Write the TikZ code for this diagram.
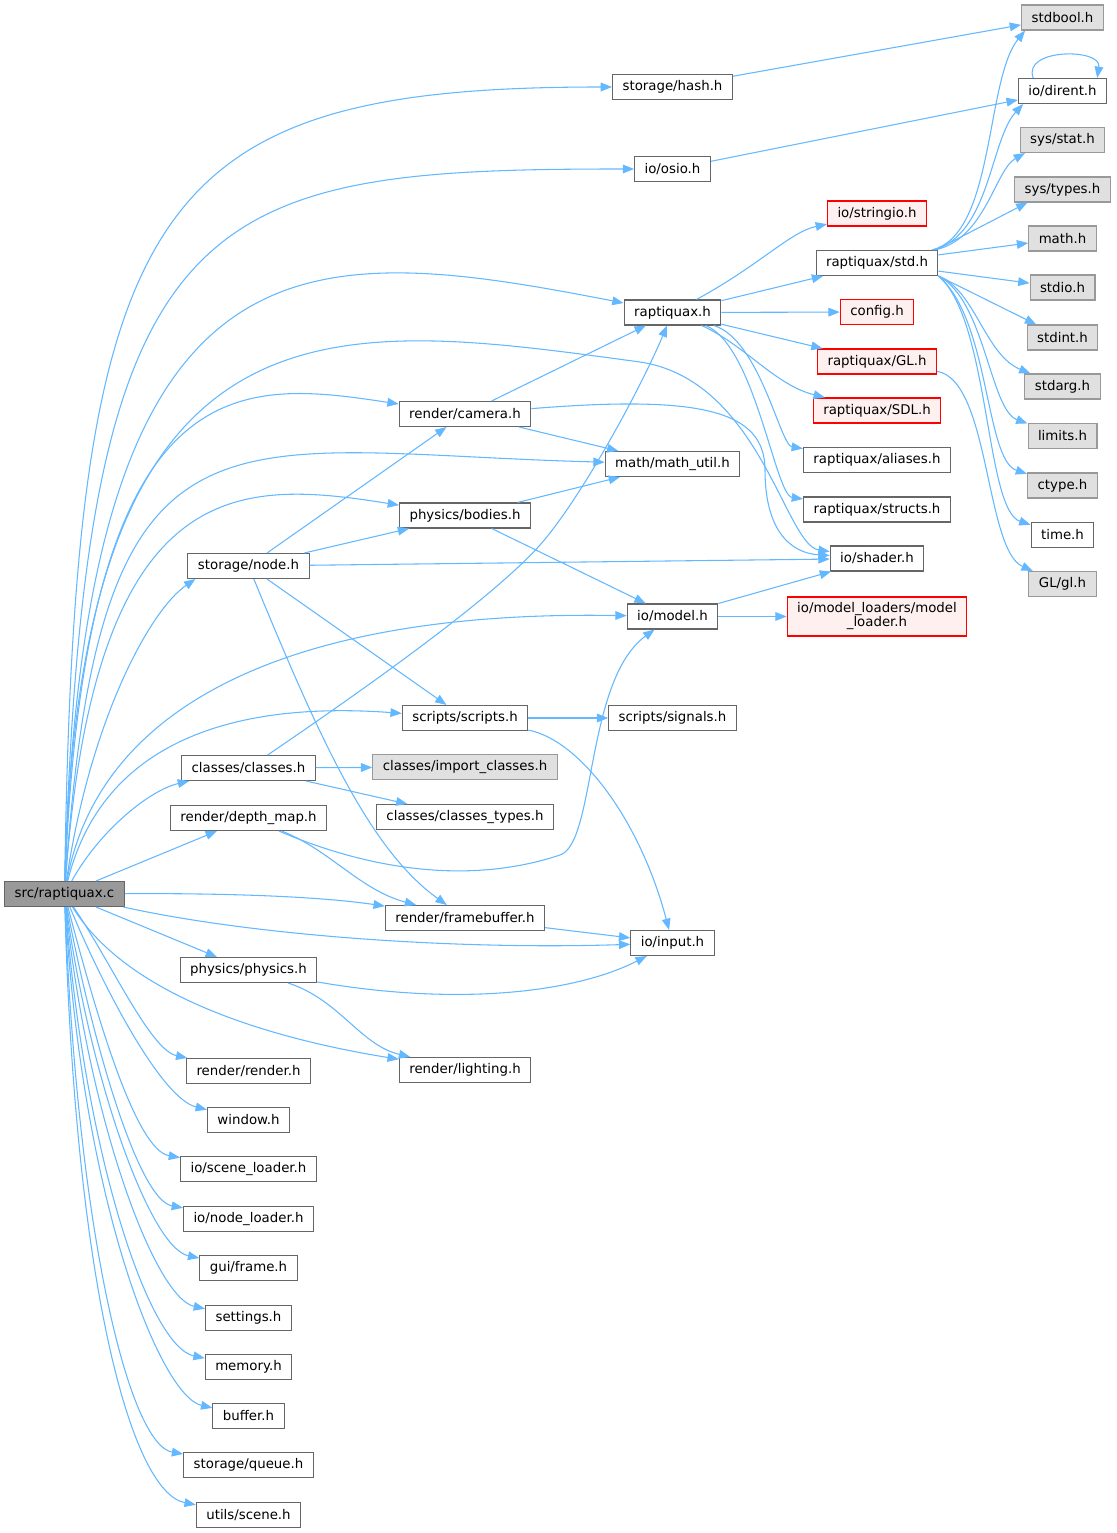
\documentclass[tikz,border=0pt]{standalone}
\usepackage{fontspec}
\setmainfont{DejaVu Sans}
\usepackage{tikz}
\usetikzlibrary{arrows.meta}
\usetikzlibrary{positioning}
\definecolor{depblue}{HTML}{63B8FF}
\tikzset{
  hfile/.style = {rectangle, draw=black!60, fill=white, line width=0.8pt,
    inner xsep=7.5pt, inner ysep=1pt, minimum height=18.75pt},
  hroot/.style = {hfile, fill=black!40},% the file itself
  hsys/.style = {hfile, draw=black!40, fill=black!12},% system header
  hmiss/.style = {hfile, draw=red, fill=red!6},% not documented
  dep/.style = {draw=depblue, line width=0.8pt}
}
\begin{document}
\begin{tikzpicture}[x=0.75pt, y=-0.75pt, ->, >={Triangle[length=8.5pt,width=6.5pt]}]
\path[fill=white, use as bounding box] (0,0) rectangle (1116,1533);

% rank 0
\node [hroot] (src) at (64.5,894) {src/raptiquax.c};
% rank 1
\node [hfile] (stnode) at (248.5,566) {storage/node.h};
\node [hfile] (classes) at (248.5,768) {classes/classes.h};
\node [hfile] (depth) at (248.5,818) {render/depth\_map.h};
\node [hfile] (physics) at (248.5,970) {physics/physics.h};
\node [hfile] (render) at (248.5,1071) {render/render.h};
\node [hfile] (window) at (248.5,1120) {window.h};
\node [hfile] (sceneld) at (248.5,1169) {io/scene\_loader.h};
\node [hfile] (nodeld) at (248.5,1219) {io/node\_loader.h};
\node [hfile] (frame) at (248.5,1268) {gui/frame.h};
\node [hfile] (settings) at (248.5,1318) {settings.h};
\node [hfile] (memory) at (248.5,1367) {memory.h};
\node [hfile] (buffer) at (248.5,1416) {buffer.h};
\node [hfile] (queue) at (248.5,1465) {storage/queue.h};
\node [hfile] (uscene) at (248.5,1515) {utils/scene.h};
% rank 2
\node [hfile] (camera) at (465,414) {render/camera.h};
\node [hfile] (bodies) at (465,515.5) {physics/bodies.h};
\node [hfile] (scripts) at (465,718) {scripts/scripts.h};
\node [hsys] (import) at (465,767) {classes/import\_classes.h};
\node [hfile] (ctypes) at (465,817) {classes/classes\_types.h};
\node [hfile] (fbuf) at (465,918) {render/framebuffer.h};
\node [hfile] (lighting) at (465,1070) {render/lighting.h};
% rank 3
\node [hfile] (hash) at (672.5,87) {storage/hash.h};
\node [hfile] (osio) at (672.5,169) {io/osio.h};
\node [hfile] (rapt) at (672.5,312.5) {raptiquax.h};
\node [hfile] (mathu) at (672.5,464) {math/math\_util.h};
\node [hfile] (model) at (672.5,616.5) {io/model.h};
\node [hfile] (signals) at (672.5,718) {scripts/signals.h};
\node [hfile] (input) at (672.5,943) {io/input.h};
% rank 4
\node [hmiss] (stringio) at (877,213.5) {io/stringio.h};
\node [hfile] (std) at (877,263) {raptiquax/std.h};
\node [hmiss] (config) at (877,312) {config.h};
\node [hmiss] (rgl) at (877,361.5) {raptiquax/GL.h};
\node [hmiss] (rsdl) at (877,410.5) {raptiquax/SDL.h};
\node [hfile] (aliases) at (877,460) {raptiquax/aliases.h};
\node [hfile] (structs) at (877,509.5) {raptiquax/structs.h};
\node [hfile] (shader) at (877,558.5) {io/shader.h};
\node [hmiss, align=center, minimum height=29.25pt, font=\fontsize{10pt}{10.5pt}\selectfont]
  (loader) at (877,616.5) {io/model\_loaders/model\\\_loader.h};
% rank 5
\node [hsys] (stdbool) at (1062.5,17.5) {stdbool.h};
\node [hfile] (dirent) at (1062.5,91) {io/dirent.h};
\node [hsys] (stat) at (1062.5,140) {sys/stat.h};
\node [hsys] (types) at (1062.5,189.5) {sys/types.h};
\node [hsys] (mathh) at (1062.5,238.5) {math.h};
\node [hsys] (stdio) at (1062.5,287.5) {stdio.h};
\node [hsys] (stdint) at (1062.5,337.5) {stdint.h};
\node [hsys] (stdarg) at (1062.5,386.5) {stdarg.h};
\node [hsys] (limits) at (1062.5,436) {limits.h};
\node [hsys] (ctype) at (1062.5,485.5) {ctype.h};
\node [hfile] (timeh) at (1062.5,535) {time.h};
\node [hsys] (gl) at (1062.5,584) {GL/gl.h};

% src/raptiquax.c
\draw[dep] (src) .. controls (75,200) and (150,87) .. (hash);
\draw[dep] (src) .. controls (85,200) and (200,169) .. (osio);
\draw[dep] (src) .. controls (85,220) and (300,240) .. (rapt);
\draw[dep] (src) .. controls (80,280) and (330,320) .. (640,362)
  .. controls (760,380) and (785,545) .. (shader);
\draw[dep] (src) .. controls (85,360) and (240,380) .. (camera);
\draw[dep] (src) .. controls (100,380) and (220,452) .. (mathu);
\draw[dep] (src) .. controls (95,470) and (240,480) .. (bodies);
\draw[dep] (src) .. controls (90,720) and (150,610) .. ([xshift=6pt]stnode.south west);
\draw[dep] (src) .. controls (100,700) and (300,610) .. (model);
\draw[dep] (src) .. controls (100,750) and (220,700) .. (scripts);
\draw[dep] (src) .. controls (100,830) and (150,790) .. ([xshift=6pt]classes.south west);
\draw[dep] (src) -- (depth);
\draw[dep] (src) .. controls (250,893) and (330,898) .. (fbuf);
\draw[dep] (src) .. controls (250,935) and (450,950) .. (input);
\draw[dep] (src) -- (physics);
\draw[dep] (src) .. controls (130,1000) and (280,1040) .. (lighting);
\foreach \t/\ax/\ay/\bx/\by in {render/110/960/150/1050, window/100/980/160/1098,
  sceneld/95/1010/135/1150, nodeld/92/1040/138/1200, frame/90/1080/150/1248,
  settings/88/1120/155/1298, memory/85/1160/150/1347, buffer/82/1200/160/1396,
  queue/78/1240/130/1445, uscene/75/1280/130/1492}
  \draw[dep] (src) .. controls (\ax,\ay) and (\bx,\by) .. (\t);

% rank 1 and 2
\draw[dep] (stnode) -- (camera);
\draw[dep] (stnode) -- (bodies);
\draw[dep] (stnode) -- (shader);
\draw[dep] (stnode) -- (scripts);
\draw[dep] (stnode) .. controls (320,740) and (370,850) .. (fbuf);
\draw[dep] (classes) .. controls (400,665) and (500,590) .. (540,545)
  .. controls (580,500) and (640,390) .. (rapt);
\draw[dep] (classes) -- (import);
\draw[dep] (classes) -- (ctypes);
\draw[dep] (depth) .. controls (330,850) and (360,890) .. (fbuf);
\draw[dep] (depth) .. controls (370,870) and (470,885) .. (560,855)
  .. controls (596,843) and (585,680) .. (model);
\draw[dep] (physics) .. controls (450,1005) and (570,995) .. (input);
\draw[dep] (physics) .. controls (340,1000) and (360,1045) .. (lighting);
\draw[dep] (camera) -- (rapt);
\draw[dep] (camera) -- (mathu);
\draw[dep] (camera) .. controls (700,395) and (765,410) .. (765,470)
  .. controls (765,530) and (790,553) .. (shader);
\draw[dep] (bodies) -- (mathu);
\draw[dep] (bodies) -- (model);
\draw[dep] (scripts) -- (signals);
\draw[dep] (scripts) .. controls (580,740) and (640,820) .. (input);
\draw[dep] (fbuf) -- (input);

% rank 3 and 4
\draw[dep] (hash) -- (stdbool);
\draw[dep] (osio) -- (dirent);
\draw[dep] (model) -- (shader);
\draw[dep] (model) -- (loader);
\draw[dep] (rapt) .. controls (760,265) and (790,232) .. (stringio);
\draw[dep] (rapt) -- (std);
\draw[dep] (rapt) -- (config);
\draw[dep] (rapt) -- (rgl);
\draw[dep] (rapt) .. controls (745,345) and (775,385) .. (rsdl);
\draw[dep] (rapt) .. controls (760,340) and (780,445) .. (aliases);
\draw[dep] (rapt) .. controls (755,345) and (775,495) .. (structs);
\draw[dep] (rgl) .. controls (990,380) and (985,550) .. (gl);
\draw[dep] ([xshift=-5pt]std.north east) .. controls (995,235) and (985,80) .. ([xshift=3pt]stdbool.south west);
\draw[dep] ([xshift=-4pt]std.north east) .. controls (990,235) and (990,140) .. ([xshift=4pt]dirent.south west);
\draw[dep] ([xshift=-3pt]std.north east) .. controls (985,240) and (995,170) .. ([xshift=4pt]stat.south west);
\draw[dep] ([xshift=-2pt]std.north east) -- ([xshift=10pt]types.south west);
\draw[dep] (std) -- (mathh);
\draw[dep] (std) -- (stdio);
\draw[dep] (std.south east) -- (stdint);
\draw[dep] (std.south east) .. controls (975,290) and (985,355) .. (stdarg);
\draw[dep] (std.south east) .. controls (985,300) and (990,410) .. (limits);
\draw[dep] (std.south east) .. controls (990,320) and (985,460) .. (ctype);
\draw[dep] (std.south east) .. controls (990,320) and (985,510) .. (timeh);
\draw[dep] ([xshift=-22pt]dirent.north) .. controls (1022,48) and (1102,48) .. ([xshift=26pt]dirent.north);
\end{tikzpicture}
\end{document}
